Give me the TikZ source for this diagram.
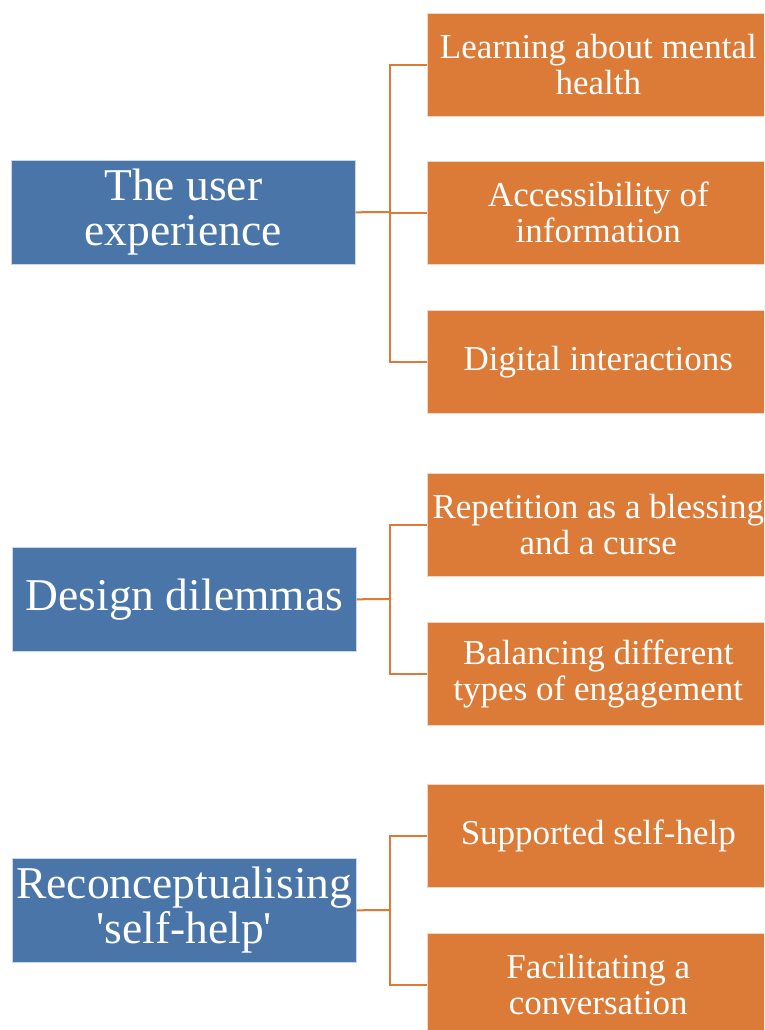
\documentclass[tikz,border=0pt]{standalone}
\usepackage{fontspec}
\setmainfont{Liberation Serif}[Ligatures=TeXOff]
\definecolor{themeblue}{HTML}{4A75A8}
\definecolor{themeorange}{HTML}{DC7A37}
\begin{document}
\begin{tikzpicture}[x=1pt,y=-1pt,
  mainbox/.style={fill=themeblue, draw=white!70!themeblue, line width=0.6pt, text=white, anchor=north west,
    minimum width=344pt, minimum height=104pt, inner sep=0pt, align=center,
    font=\fontsize{45.5}{45}\selectfont},
  subbox/.style={fill=themeorange, draw=white!70!themeorange, line width=0.6pt, text=white, anchor=north west,
    minimum width=342pt, minimum height=103pt, inner sep=0pt, align=center,
    font=\fontsize{35}{36}\selectfont},
  conn/.style={draw=themeorange, line width=2pt}]
\useasboundingbox (0,0) rectangle (764,1030);
\clip (0,0) rectangle (764,1030);
\fill[white] (0,0) rectangle (764,1030);
% group 1
\node[mainbox] (b1) at (11,160) {The user\\experience};
\node[subbox] (o11) at (427,13) {Learning about mental\\health};
\node[subbox] (o12) at (427,161) {Accessibility of\\information};
\node[subbox] (o13) at (427,310) {Digital interactions};
\coordinate (j1) at (390,212);
\draw[conn] (b1.east) -- (j1);
\draw[conn] (j1) |- (o11.west);
\draw[conn] (j1) |- (o12.west);
\draw[conn] (j1) |- (o13.west);
% group 2
\node[mainbox] (b2) at (12,547) {Design dilemmas};
\node[subbox] (o21) at (427,473) {Repetition as a blessing\\and a curse};
\node[subbox] (o22) at (427,622) {Balancing different\\types of engagement};
\coordinate (j2) at (390,599);
\draw[conn] (b2.east) -- (j2);
\draw[conn] (j2) |- (o21.west);
\draw[conn] (j2) |- (o22.west);
% group 3
\node[mainbox] (b3) at (12,858) {Reconceptualising\\'self-help'};
\node[subbox] (o31) at (427,784) {Supported self-help};
\node[subbox] (o32) at (427,933) {Facilitating a\\conversation};
\coordinate (j3) at (390,910);
\draw[conn] (b3.east) -- (j3);
\draw[conn] (j3) |- (o31.west);
\draw[conn] (j3) |- (o32.west);
\end{tikzpicture}
\end{document}
